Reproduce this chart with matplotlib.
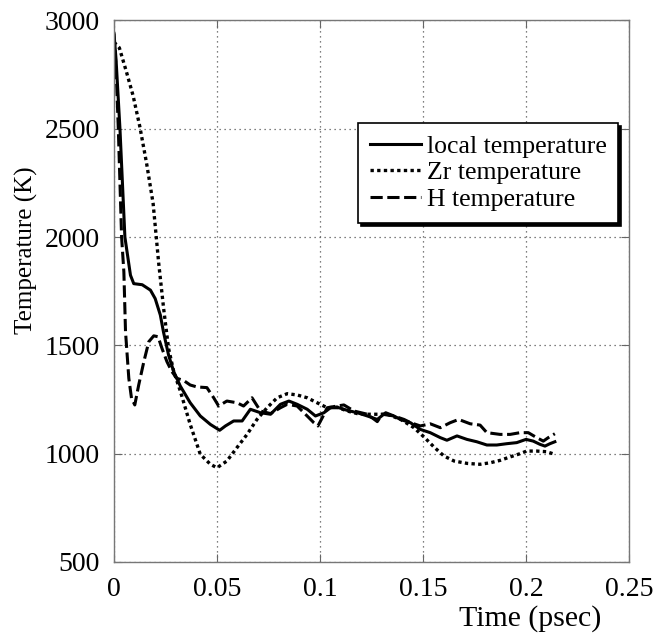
import matplotlib.pyplot as plt
import numpy as np

plt.rcParams.update({'font.size': 20})
plt.rcParams['font.family'] = ['Liberation Serif', 'DejaVu Serif']

# local temperature
t_local = [0, 0.001, 0.0029, 0.0053, 0.008, 0.0096, 0.0137, 0.0177, 0.020, 0.0225,
           0.024, 0.0265, 0.029, 0.0322, 0.037, 0.0419, 0.0468, 0.0513, 0.0541, 0.0581,
           0.0622, 0.0662, 0.0711, 0.076, 0.0808, 0.0849, 0.0889, 0.0938, 0.0978, 0.1019,
           0.1051, 0.1092, 0.1132, 0.1181, 0.123, 0.1278, 0.1319, 0.1359, 0.139, 0.1439,
           0.1487, 0.1535, 0.1584, 0.1616, 0.1665, 0.1713, 0.1761, 0.181, 0.1858, 0.1906,
           0.1955, 0.2, 0.2035, 0.2068, 0.2092, 0.2116, 0.214]
T_local = [2940, 2820, 2500, 2000, 1824, 1785, 1780, 1755, 1716, 1640,
           1563, 1455, 1379, 1312, 1235, 1174, 1135, 1108, 1128, 1151,
           1151, 1205, 1189, 1182, 1228, 1243, 1228, 1205, 1174, 1189,
           1212, 1212, 1200, 1189, 1174, 1158, 1189, 1174, 1158, 1143,
           1112, 1097, 1074, 1062, 1082, 1066, 1055, 1040, 1040, 1046,
           1051, 1066, 1058, 1043, 1035, 1046, 1055]

# Zr temperature
t_zr = [0, 0.0026, 0.0061, 0.0093, 0.0125, 0.0158, 0.019, 0.0217, 0.0241, 0.0265,
        0.029, 0.0322, 0.037, 0.0419, 0.0468, 0.05, 0.0548, 0.0597, 0.0646, 0.0694,
        0.0743, 0.0792, 0.0841, 0.0889, 0.0938, 0.0986, 0.1035, 0.1083, 0.1132, 0.1181,
        0.123, 0.1278, 0.1327, 0.1392, 0.1456, 0.1505, 0.1553, 0.1602, 0.1651, 0.1715,
        0.1777, 0.1826, 0.1874, 0.1923, 0.1971, 0.2003, 0.2052, 0.21, 0.214]
T_zr = [2900, 2874, 2761, 2652, 2512, 2342, 2155, 1880, 1670, 1486,
        1379, 1289, 1135, 997, 951, 935, 966, 1028, 1089, 1158,
        1212, 1258, 1277, 1271, 1258, 1235, 1212, 1215, 1197, 1185,
        1182, 1182, 1182, 1158, 1120, 1077, 1031, 989, 966, 955,
        951, 958, 969, 985, 1000, 1012, 1012, 1009, 997]

# H temperature
t_h = [0, 0.001, 0.0021, 0.0037, 0.0048, 0.0056, 0.0072, 0.0085, 0.0101, 0.012,
       0.0145, 0.0169, 0.0193, 0.0214, 0.0233, 0.0257, 0.0281, 0.0305, 0.0338, 0.037,
       0.0403, 0.0451, 0.0484, 0.0508, 0.0548, 0.0597, 0.0629, 0.067, 0.0711, 0.076,
       0.0808, 0.0841, 0.0889, 0.0946, 0.097, 0.099, 0.1011, 0.1035, 0.1083, 0.1116,
       0.1165, 0.123, 0.1278, 0.1302, 0.1359, 0.1408, 0.144, 0.1487, 0.1535, 0.1584,
       0.1632, 0.1673, 0.1729, 0.1777, 0.181, 0.1874, 0.1923, 0.1971, 0.2011, 0.2052,
       0.2084, 0.2108, 0.214]
T_h = [2940, 2780, 2500, 2000, 1839, 1563, 1348, 1256, 1225, 1317,
       1425, 1517, 1544, 1540, 1486, 1425, 1379, 1348, 1338, 1317,
       1308, 1305, 1258, 1220, 1243, 1235, 1220, 1258, 1197, 1185,
       1212, 1228, 1220, 1166, 1143, 1128, 1166, 1212, 1220, 1225,
       1197, 1182, 1148, 1182, 1174, 1158, 1143, 1128, 1138, 1120,
       1143, 1158, 1138, 1132, 1097, 1089, 1089, 1097, 1097, 1074,
       1058, 1074, 1092]

fig = plt.figure(figsize=(6.65, 6.36), dpi=100)
ax = fig.add_axes([0.1714, 0.1164, 0.7745, 0.8514])

ax.plot(t_local, T_local, color='black', lw=2.2, label='local temperature')
ax.plot(t_zr, T_zr, color='black', lw=2.4, linestyle=(0, (1, 1)), label='Zr temperature')
ax.plot(t_h, T_h, color='black', lw=2.2, linestyle=(0, (4, 1.5)), label='H temperature')

ax.set_xlim(0, 0.25)
ax.set_ylim(500, 3000)
ax.set_xticks([0, 0.05, 0.1, 0.15, 0.2, 0.25])
ax.set_xticklabels(['0', '0.05', '0.1', '0.15', '0.2', '0.25'])
ax.set_yticks([500, 1000, 1500, 2000, 2500, 3000])
ax.tick_params(direction='in', length=6, width=0.8, color='#666666',
               top=True, right=True)
ax.tick_params(axis='y', pad=10)
ax.tick_params(axis='x', pad=11)
for sp in ax.spines.values():
    sp.set_color('#777777')
    sp.set_linewidth(1.0)
ax.grid(True, linestyle=(0, (1, 3)), color='#555555', linewidth=0.9)

ax.set_ylabel('Temperature (K)', fontsize=18)
ax.yaxis.set_label_coords(-0.148, 0.576)
ax.set_xlabel('Time (psec)', fontsize=21.5)
ax.xaxis.set_label_coords(0.809, -0.08)

leg = ax.legend(loc='upper right', bbox_to_anchor=(0.9786, 0.8107), borderaxespad=0,
                fancybox=False, shadow={'color': 'black', 'alpha': 1.0},
                edgecolor='black', handlelength=2.0, handletextpad=0.2,
                labelspacing=0.15, borderpad=0.45, framealpha=1, fontsize=18.5)
leg.get_frame().set_linewidth(1.2)

plt.savefig('out.png', dpi=100)
